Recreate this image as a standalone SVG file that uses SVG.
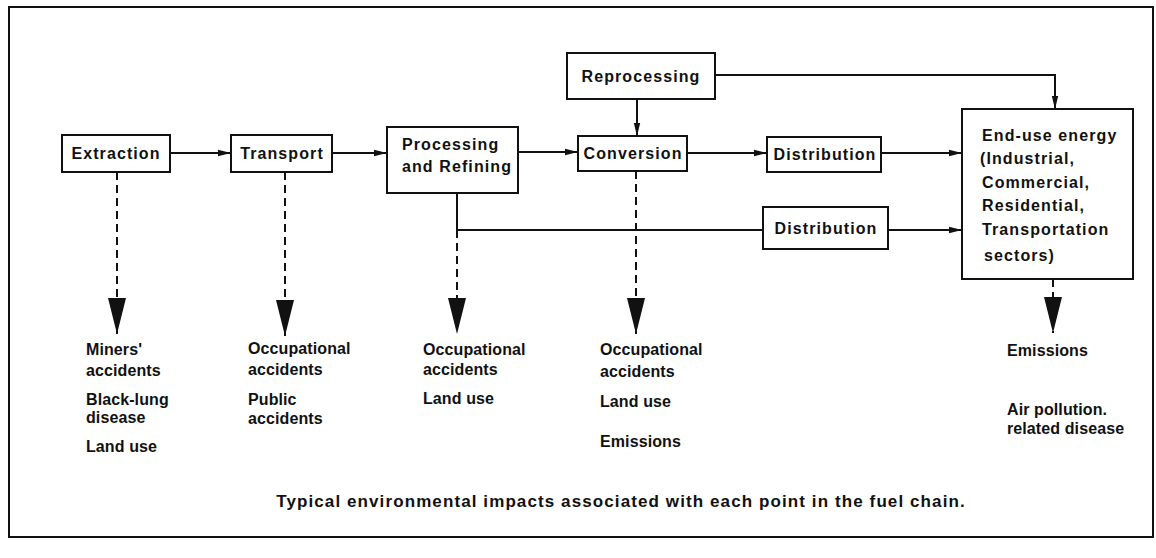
<svg xmlns="http://www.w3.org/2000/svg" width="1156" height="558" viewBox="0 0 1156 558">
<style>
  .box { fill: #fff; stroke: #111; stroke-width: 2; }
  .lbl { font-family: "Liberation Sans", Arial, sans-serif; font-weight: bold; font-size: 16px; letter-spacing: 1.1px; fill: #111; }
  .imp { font-family: "Liberation Sans", Arial, sans-serif; font-weight: bold; font-size: 16px; letter-spacing: 0.1px; fill: #111; }
  .cap { font-family: "Liberation Sans", Arial, sans-serif; font-weight: bold; font-size: 17px; letter-spacing: 1.1px; fill: #111; }
  .con { fill: none; stroke: #111; stroke-width: 2; }
  .dash { fill: none; stroke: #111; stroke-width: 2; stroke-dasharray: 8 5; }
</style>
<defs>
  <marker id="ah" markerUnits="userSpaceOnUse" markerWidth="14" markerHeight="8" refX="13" refY="4" orient="auto">
    <path d="M0,0.8 L13,4 L0,7.2 z" fill="#111"/>
  </marker>
  <marker id="big" markerUnits="userSpaceOnUse" markerWidth="36" markerHeight="20" refX="36" refY="10" orient="auto">
    <path d="M0,1 L36,10 L0,19 z" fill="#111"/>
  </marker>
</defs>
<rect width="1156" height="558" fill="#fff"/>
<rect x="9" y="7" width="1144" height="530" fill="none" stroke="#111" stroke-width="2"/>

<g id="connectors">
  <path class="con" d="M170,153 H231" marker-end="url(#ah)"/>
  <path class="con" d="M332,153 H387" marker-end="url(#ah)"/>
  <path class="con" d="M518,152 H578" marker-end="url(#ah)"/>
  <path class="con" d="M687,153 H767" marker-end="url(#ah)"/>
  <path class="con" d="M881,153 H962" marker-end="url(#ah)"/>
  <path class="con" d="M637,99 V136" marker-end="url(#ah)"/>
  <path class="con" d="M715,75 H1055 V109" marker-end="url(#ah)"/>
  <path class="con" d="M457,193 V230 H763"/>
  <path class="con" d="M888,230 H962" marker-end="url(#ah)"/>
  <path class="dash" d="M117,172 V334" marker-end="url(#big)"/>
  <path class="dash" d="M285,172 V336" marker-end="url(#big)"/>
  <path class="dash" d="M457,230 V334" marker-end="url(#big)"/>
  <path class="dash" d="M636,171 V334" marker-end="url(#big)"/>
  <path class="dash" d="M1053,279 V333" marker-end="url(#big)"/>
</g>

<g id="extraction">
  <rect class="box" x="62" y="135" width="108" height="37"/>
  <text class="lbl" x="116" y="159" text-anchor="middle">Extraction</text>
</g>
<g id="transport">
  <rect class="box" x="231" y="135" width="101" height="37"/>
  <text class="lbl" x="282" y="159" text-anchor="middle">Transport</text>
</g>
<g id="processing">
  <rect class="box" x="387" y="127" width="131" height="66"/>
  <text class="lbl" x="402" y="150">Processing</text>
  <text class="lbl" x="402" y="172">and Refining</text>
</g>
<g id="reprocessing">
  <rect class="box" x="567" y="53" width="148" height="46"/>
  <text class="lbl" x="641" y="82" text-anchor="middle">Reprocessing</text>
</g>
<g id="conversion">
  <rect class="box" x="578" y="136" width="109" height="35"/>
  <text class="lbl" x="633" y="159" text-anchor="middle">Conversion</text>
</g>
<g id="distribution1">
  <rect class="box" x="767" y="137" width="114" height="35"/>
  <text class="lbl" x="825" y="160" text-anchor="middle">Distribution</text>
</g>
<g id="distribution2">
  <rect class="box" x="763" y="207" width="125" height="42"/>
  <text class="lbl" x="826" y="234" text-anchor="middle">Distribution</text>
</g>
<g id="enduse">
  <rect class="box" x="962" y="109" width="171" height="170"/>
  <text class="lbl" x="982" y="141">End-use energy</text>
  <text class="lbl" x="980" y="164">(Industrial,</text>
  <text class="lbl" x="982" y="188">Commercial,</text>
  <text class="lbl" x="982" y="211">Residential,</text>
  <text class="lbl" x="982" y="235">Transportation</text>
  <text class="lbl" x="984" y="261">sectors)</text>
</g>

<g id="impacts-extraction">
  <text class="imp" x="86" y="355">Miners'</text>
  <text class="imp" x="86" y="376">accidents</text>
  <text class="imp" x="86" y="405">Black-lung</text>
  <text class="imp" x="86" y="423">disease</text>
  <text class="imp" x="86" y="452">Land use</text>
</g>
<g id="impacts-transport">
  <text class="imp" x="248" y="354">Occupational</text>
  <text class="imp" x="248" y="375">accidents</text>
  <text class="imp" x="248" y="405">Public</text>
  <text class="imp" x="248" y="424">accidents</text>
</g>
<g id="impacts-processing">
  <text class="imp" x="423" y="355">Occupational</text>
  <text class="imp" x="423" y="375">accidents</text>
  <text class="imp" x="423" y="404">Land use</text>
</g>
<g id="impacts-conversion">
  <text class="imp" x="600" y="355">Occupational</text>
  <text class="imp" x="600" y="377">accidents</text>
  <text class="imp" x="600" y="407">Land use</text>
  <text class="imp" x="600" y="447">Emissions</text>
</g>
<g id="impacts-enduse">
  <text class="imp" x="1007" y="356">Emissions</text>
  <text class="imp" x="1007" y="415">Air pollution.</text>
  <text class="imp" x="1007" y="434">related disease</text>
</g>

<text class="cap" x="621" y="507" text-anchor="middle">Typical environmental impacts associated with each point in the fuel chain.</text>
</svg>
